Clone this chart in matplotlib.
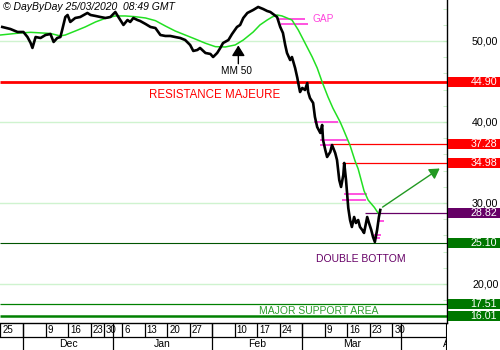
import numpy as np
import pandas as pd
import matplotlib
matplotlib.use("Agg")
import matplotlib.pyplot as plt
from matplotlib.patches import Rectangle
from matplotlib.ticker import MultipleLocator
import matplotlib.transforms as mtransforms

plt.rcParams['font.family'] = ['Liberation Sans', 'DejaVu Sans']

# trading sessions counted from 25/11/2019 (Euronext holidays removed)
start = '2019-11-25'
holidays = ['2019-12-25', '2019-12-26', '2020-01-01']

# price path (session index, price)
price_day = [0.4, 2.2, 3.8, 5.1, 6.0, 6.7, 7.1, 7.8, 8.9, 10.0,
             11.1, 11.8, 12.6, 13.3, 13.7, 14.4, 14.9, 15.5, 16.6, 17.7,
             19.3, 20.0, 21.1, 22.2, 23.3, 24.4, 25.5, 25.9, 26.6, 27.3,
             28.2, 28.8, 29.5, 30.4, 31.0, 32.2, 33.3, 34.4, 35.5, 36.6,
             37.7, 38.8, 39.9, 41.0, 42.1, 42.8, 43.7, 44.3, 45.5, 46.6,
             47.2, 48.1, 48.8, 49.4, 50.6, 51.4, 52.5, 53.2, 53.9, 54.8,
             56.1, 57.2, 58.3, 59.2, 59.9, 60.5, 61.4, 62.1, 62.7, 63.2,
             63.6, 64.3, 64.7, 65.4, 65.9, 66.1, 66.5, 67.0, 67.6, 68.1,
             68.3, 68.7, 69.4, 69.8, 70.3, 71.0, 71.4, 71.6, 72.1, 72.5,
             73.2, 73.6, 74.3, 74.7, 75.2, 75.6, 76.1, 76.3, 76.7, 77.2,
             77.6, 78.0, 78.5, 78.9, 79.4, 79.8, 80.3, 80.7, 81.4, 81.8,
             82.3, 82.7, 83.1, 83.6, 84.0, 84.3]
price_val = [51.73, 51.48, 51.11, 51.11, 50.49, 49.75, 49.14, 50.49, 50.37, 50.74,
             50.86, 49.88, 50.37, 50.49, 51.36, 52.96, 53.21, 52.35, 52.84, 52.96,
             53.46, 53.21, 53.09, 52.96, 52.84, 52.96, 53.58, 53.21, 52.59, 51.98,
             52.59, 52.35, 52.84, 52.59, 52.47, 52.10, 51.73, 51.60, 50.74, 50.62,
             50.62, 50.49, 50.37, 50.12, 49.51, 48.77, 48.89, 49.14, 48.52, 48.40,
             48.02, 48.52, 49.14, 49.75, 50.12, 50.86, 51.73, 51.98, 52.84, 53.46,
             53.83, 54.20, 53.95, 53.70, 53.58, 53.33, 52.96, 51.73, 50.99, 49.51,
             48.52, 47.65, 48.02, 46.67, 45.43, 44.81, 43.70, 44.20, 43.95, 44.81,
             43.70, 42.96, 42.35, 40.62, 39.38, 38.64, 39.63, 37.78, 36.54, 35.68,
             36.30, 37.16, 36.17, 35.31, 32.84, 31.98, 33.46, 34.94, 32.84, 29.38,
             27.90, 27.04, 28.27, 27.53, 27.90, 27.04, 26.67, 26.30, 28.27, 27.53,
             26.67, 25.80, 25.19, 26.67, 28.27, 29.14]

# 50 period moving average
ma_day = [0, 4.4, 6.7, 11.1, 13.3, 14.4, 16.6, 18.8, 21.1, 23.3,
          25.5, 27.7, 29.9, 32.2, 34.4, 36.6, 38.8, 41.0, 43.2, 45.5,
          47.7, 49.9, 52.1, 53.9, 56.1, 57.6, 59.2, 60.3, 61.4, 62.5,
          63.6, 64.7, 66.1, 67.6, 69.2, 70.3, 71.4, 72.7, 73.8, 75.4,
          76.1, 77.0, 77.6, 78.7, 79.4, 80.7, 81.6, 83.0, 83.8]
ma_val = [50.74, 50.99, 51.07, 50.93, 50.62, 50.74, 51.23, 51.73, 52.35, 52.80,
          53.09, 53.09, 53.00, 52.84, 52.51, 51.85, 51.23, 50.74, 50.25, 49.72,
          49.30, 49.26, 49.51, 50.12, 51.11, 51.98, 52.59, 52.96, 53.21, 53.09,
          52.84, 52.59, 51.36, 49.75, 48.02, 46.67, 44.94, 43.09, 41.70, 40.00,
          39.10, 37.90, 37.10, 35.20, 34.20, 31.50, 30.37, 29.45, 28.77]

# horizontal levels
level_val = [44.90, 37.28, 34.98, 28.82, 25.10, 17.51, 16.01]
level_from = [0, 73.0, 75.8, 80.9, 0, 0, 0]
level_color = ['#ff0000', '#ff0000', '#ff0000', '#660066', '#005500', '#008000', '#008000']
level_box = ['#ff0000', '#ff0000', '#ff0000', '#660066', '#007700', '#007700', '#007700']
level_lw = [2.0, 0.9, 0.9, 0.9, 0.8, 0.9, 1.8]

# gap markers (level, from, to)
gap_val = [52.68, 52.06, 39.96, 37.81, 37.12, 31.07, 30.37, 27.78, 26.05, 25.64]
gap_from = [61.6, 62.3, 69.6, 71.0, 71.0, 76.3, 75.8, 83.7, 82.9, 82.9]
gap_to = [67.6, 68.2, 74.9, 76.9, 73.3, 81.4, 81.1, 85.1, 84.4, 84.2]

yticks = [20, 30, 40, 50]

W, H = 500, 350
fig = plt.figure(figsize=(5, 3.5), dpi=100)
ax = fig.add_axes([0, 27 / H, 447 / W, 323 / H])
axb = fig.add_axes([0, 0, 447 / W, 27 / H])

xmax = 447 / 4.51
ax.set_xlim(-0.1, xmax)
ax.set_ylim(15.185, 55.06)

ax.grid(axis='y', which='major', color='#cff3cf', lw=1)

for v, x0, c, lw in zip(level_val, level_from, level_color, level_lw):
    ax.hlines(v, x0, xmax, color=c, lw=lw, zorder=2)

for v, x0, x1 in zip(gap_val, gap_from, gap_to):
    ax.hlines(v, x0, x1, color='#ff44dd', lw=1.3, zorder=3)

ax.plot(ma_day, ma_val, color='#22e022', lw=1.1, zorder=3)
ax.plot(price_day, price_val, color='black', lw=1.9, zorder=4)

# right side value boxes
trans = mtransforms.blended_transform_factory(fig.transFigure, ax.transData)
for v, c in zip(level_val, level_box):
    ax.add_patch(Rectangle((448 / W, v - 0.62), 52 / W, 1.24, transform=trans,
                           facecolor=c, edgecolor='none', clip_on=False, zorder=5))
    ax.text(497 / W, v, f'{v:.2f}', transform=trans, ha='right', va='center',
            color='white', fontsize=7.7, clip_on=False, zorder=6)

ax.yaxis.tick_right()
ax.set_yticks(yticks)
ax.set_yticklabels([f'{t},00' for t in yticks])
ax.yaxis.set_minor_locator(MultipleLocator(2))
ax.tick_params(axis='y', which='both', direction='in', color='#bfeebf', length=3,
               labelsize=7.7, pad=37)
for lab in ax.get_yticklabels():
    lab.set_horizontalalignment('right')
ax.set_xticks([])
for s in ['left', 'top']:
    ax.spines[s].set_visible(False)
ax.spines['right'].set_linewidth(1)
ax.spines['bottom'].set_linewidth(1)

# annotations
ax.text(69.2, 52.7, 'GAP', color='#ff44dd', fontsize=7.3, va='center', ha='left')
ax.text(33.0, 43.33, 'RESISTANCE MAJEURE', color='#ff0000', fontsize=8.3, va='center')
ax.text(70.1, 23.09, 'DOUBLE BOTTOM', color='#660066', fontsize=7.5, va='center')
ax.text(57.4, 16.65, 'MAJOR SUPPORT AREA', color='#2e9e2e', fontsize=7.5, va='center')
ax.text(52.3, 46.3, 'MM 50', color='black', fontsize=7.2, va='center', ha='center')
ax.annotate('', xy=(52.8, 49.8), xytext=(52.8, 46.85),
            arrowprops=dict(arrowstyle='-|>,head_length=0.45,head_width=0.28',
                            color='black', lw=1, mutation_scale=14))
ax.annotate('', xy=(98.0, 34.45), xytext=(84.3, 29.3),
            arrowprops=dict(arrowstyle='-|>,head_length=0.5,head_width=0.3',
                            color='#229922', lw=1, mutation_scale=12))

fig.text(3 / W, 1 - 1.5 / H, '\u00a9 DayByDay 25/03/2020  08:49 GMT', ha='left', va='top',
         fontsize=7.5, style='italic')

# date axis: weeks row and months row
def sess(d):
    return np.busday_count(start, np.datetime64(d, 'D'), holidays=holidays)

mondays = pd.date_range('2019-11-25', '2020-03-30', freq='W-MON')
month_starts = pd.date_range('2019-12-01', '2020-05-01', freq='BMS')
month_pos = [sess(m.date()) for m in month_starts]

axb.set_xlim(ax.get_xlim())
axb.set_ylim(0, 2)
axb.axis('off')
axb.axhline(1, color='black', lw=0.9)
axb.axvline(xmax, color='black', lw=1.5)
for m in mondays:
    p = sess(m.date())
    axb.vlines(p, 1, 2, color='black', lw=0.9)
    if p not in month_pos:
        axb.text(p + 0.45, 1.5, str(m.day), fontsize=7, va='center', ha='left', clip_on=True)
for i in range(len(month_starts) - 1):
    p0, p1 = month_pos[i], month_pos[i + 1]
    axb.vlines(p0, 0, 2, color='black', lw=0.9)
    axb.text((p0 + p1) / 2, 0.45, month_starts[i].strftime('%b'), fontsize=7.5,
             ha='center', va='center', clip_on=True)

fig.savefig('out.png', dpi=100)
